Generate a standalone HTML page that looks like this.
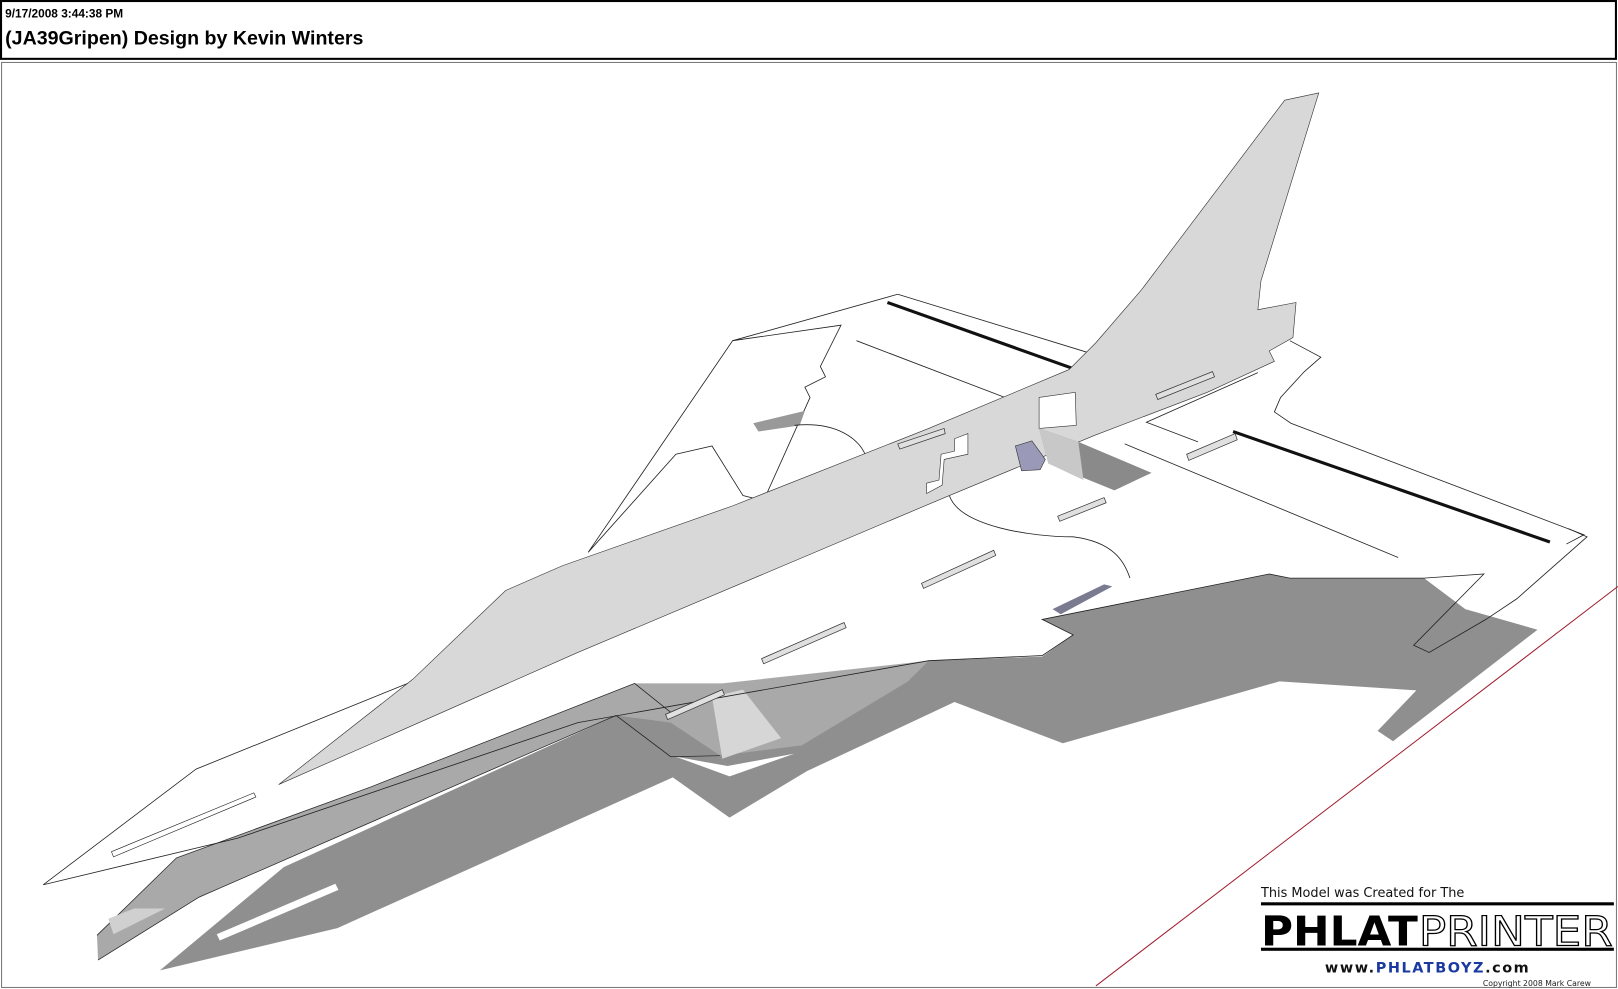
<!DOCTYPE html>
<html><head><meta charset="utf-8"><style>
html,body{margin:0;padding:0;background:#fff;width:1618px;height:989px;overflow:hidden}
svg{display:block}
</style></head><body>
<svg width="1618" height="989" viewBox="0 0 1568 958" preserveAspectRatio="none" xmlns="http://www.w3.org/2000/svg">
<rect x="0" y="0" width="1568" height="958" fill="#fff"/>
<rect x="1" y="1" width="1565" height="56" fill="#fff" stroke="#000" stroke-width="2"/>
<text x="5" y="17" font-family="Liberation Sans, sans-serif" font-weight="bold" font-size="11.5">9/17/2008 3:44:38 PM</text>
<text x="5" y="43" font-family="Liberation Sans, sans-serif" font-weight="bold" font-size="19">(JA39Gripen) Design by Kevin Winters</text>
<rect x="1.5" y="60.5" width="1565" height="896" fill="none" stroke="#777" stroke-width="1"/>
<line x1="1062" y1="955" x2="1568" y2="568" stroke="#a02030" stroke-width="1"/>
<!-- shadow -->
<polygon fill="#8f8f8f" points="155,940 275,840 597,693 700,665 900,640 1010,636 1040,615 1010,600 1230,556 1250,560 1380,560 1420,590 1490,610 1350,718 1335,708 1400,640 1392,670 1240,660 1030,720 925,680 782,747 707,792 652,753 327,899"/>
<polygon fill="#fff" points="210,905 325,856 328,862 213,911"/>
<!-- lower wing medium -->
<polygon fill="#a9a9a9" points="94,906 171,831 360,762 615,662 700,662 900,640 880,660 777,722 698,732 650,700 597,693 193,869 95,930"/>
<polyline fill="none" stroke="#222" stroke-width="0.7" points="94,906 171,831 360,762 615,662 650,690"/>
<polyline fill="none" stroke="#222" stroke-width="0.7" points="95,930 193,869 597,693 650,733 698,732"/>
<polygon fill="#d6d6d6" points="690,675 720,668 757,715 700,735"/>
<polygon fill="#d0d0d0" points="105,890 130,880 160,880 110,905"/>
<polygon fill="#fff" points="655,733 707,752 770,730 705,742"/>
<!-- main wing outlines -->
<polyline fill="none" stroke="#222" stroke-width="0.8" points="42,857 190,745 400,660"/>
<polyline fill="none" stroke="#222" stroke-width="0.8" points="42,857 230,812 560,700 900,640 1010,635 1040,615 1010,600 1230,556 1250,560 1380,560 1438,556 1370,625 1385,632 1440,600 1470,580 1538,520 1520,512"/>
<polygon fill="#fff" stroke="#222" stroke-width="0.6" points="108,825 246,768 248,772 110,830"/>
<!-- right delta wing -->
<polyline fill="none" stroke="#222" stroke-width="0.8" points="870,285 1056,342"/>
<polyline fill="none" stroke="#222" stroke-width="0.8" points="1250,330 1280,346 1264,360 1241,385 1235,399 1251,410 1535,518 1518,527"/>
<polyline fill="none" stroke="#222" stroke-width="0.8" points="1219,361 1111,409 1161,428"/>
<polyline fill="none" stroke="#222" stroke-width="0.8" points="710,330 870,285"/>
<line x1="860" y1="293" x2="1040" y2="357" stroke="#111" stroke-width="3"/>
<line x1="1195" y1="418" x2="1502" y2="525" stroke="#111" stroke-width="3"/>
<line x1="830" y1="330" x2="1000" y2="395" stroke="#222" stroke-width="0.8"/>
<line x1="1090" y1="430" x2="1355" y2="540" stroke="#222" stroke-width="0.8"/>
<!-- canard -->
<polygon fill="#fff" stroke="#222" stroke-width="0.8" points="710,330 815,315 795,355 800,365 780,375 785,385 740,485 720,480 690,432 655,440 570,535"/>
<polygon fill="#999" points="730,410 780,398 775,412 735,418"/>
<path d="M770,412 C810,408 835,425 840,445" fill="none" stroke="#222" stroke-width="0.8"/>
<path d="M920,480 C930,510 1000,520 1040,520 C1080,525 1090,545 1095,560" fill="none" stroke="#222" stroke-width="0.8"/>
<!-- fuselage -->
<polygon fill="#d8d8d8" stroke="#333" stroke-width="0.6" points="270,760 400,658 490,572 545,548 710,490 900,415 1036,358 1062,332 1106,281 1245,97 1278,90 1222,272 1219,300 1256,293 1253,327 1230,340 1235,350 1170,380 1060,422 920,480 560,632"/>
<polygon fill="#fff" stroke="#333" stroke-width="0.6" points="925,425 938,420 938,440 915,445 913,470 898,478 898,468 910,465 912,440 925,437"/>
<polygon fill="#fff" stroke="#333" stroke-width="0.6" points="1007,385 1042,380 1043,412 1007,415"/>
<!-- wheel well -->
<polygon fill="#8a8a8a" points="1007,415 1045,428 1116,458 1080,475 1016,449"/>
<polygon fill="#c8c8c8" points="1007,415 1045,428 1050,465 1016,449"/>
<polygon fill="#9a9ab8" stroke="#333" stroke-width="0.6" points="984,432 1000,427 1013,445 1008,455 990,456"/>
<!-- slots -->
<g fill="#e0e0e0" stroke="#333" stroke-width="0.7">
<polygon points="738,638 818,603 820,608 740,643"/>
<polygon points="893,565 963,533 965,538 895,570"/>
<polygon points="1025,500 1070,482 1072,487 1027,505"/>
<polygon points="1150,440 1197,420 1199,426 1152,446"/>
<polygon points="1120,382 1175,360 1177,365 1122,387"/>
<polygon points="645,692 700,668 702,673 647,697"/>
<polygon points="870,430 915,415 916,420 872,435"/>
</g>
<polygon fill="#7a7a90" points="1020,590 1070,566 1078,568 1028,595"/>
<!-- logo -->
<text x="1222" y="869" font-family="DejaVu Sans, sans-serif" font-size="12.5" fill="#111">This Model was Created for The</text>
<rect x="1222" y="874" width="342" height="3" fill="#000"/>
<rect x="1222" y="918" width="342" height="3" fill="#000"/>
<text x="1222" y="916" font-family="DejaVu Sans, sans-serif" font-weight="bold" font-size="40" fill="#000" textLength="152" lengthAdjust="spacingAndGlyphs">PHLAT</text>
<text x="1375" y="916" font-family="DejaVu Sans, sans-serif" font-size="40" fill="#fff" stroke="#000" stroke-width="1.2" textLength="188" lengthAdjust="spacingAndGlyphs">PRINTER</text>
<text x="1284" y="942" font-family="DejaVu Sans, sans-serif" font-weight="bold" font-size="14" fill="#111" letter-spacing="1.5">www.<tspan fill="#1a3aa0">PHLATBOYZ</tspan>.com</text>
<text x="1437" y="955" font-family="DejaVu Sans, sans-serif" font-size="7.5" fill="#222">Copyright 2008 Mark Carew</text>
</svg>
</body></html>
